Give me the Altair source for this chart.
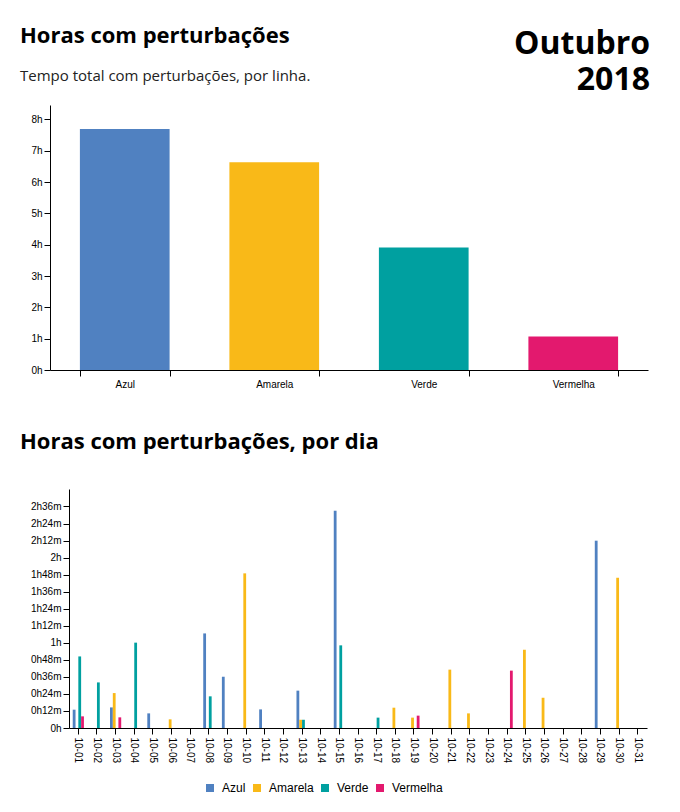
import altair as alt
import pandas as pd

TITLE_FONT = "Open Sans"
AXIS_FONT = "Liberation Sans"

linhas = ["Azul", "Amarela", "Verde", "Vermelha"]
cores = ["#5081c1", "#f9b918", "#00a0a0", "#e3196e"]

# total hours with disruptions, per line
total_horas = [7.69, 6.63, 3.91, 1.07]

# day tick labels
dias = ["10-01", "10-02", "10-03", "10-04", "10-05", "10-06", "10-07", "10-08",
        "10-09", "10-10", "10-11", "10-12", "10-13", "10-14", "10-15", "10-16",
        "10-17", "10-18", "10-19", "10-20", "10-21", "10-22", "10-23", "10-24",
        "10-25", "10-26", "10-27", "10-28", "10-29", "10-30", "10-31"]

# minutes with disruptions per day, per line
azul_dias = ["10-01", "10-03", "10-05", "10-08", "10-09", "10-11", "10-13", "10-15", "10-29"]
azul_min = [12.9, 14.5, 10.3, 66.6, 36.1, 13.1, 26.3, 153.0, 131.9]
amarela_dias = ["10-03", "10-06", "10-10", "10-13", "10-18", "10-19", "10-21", "10-22",
                "10-25", "10-26", "10-30"]
amarela_min = [24.6, 6.1, 108.9, 5.8, 14.3, 7.3, 41.1, 10.3, 55.1, 21.3, 105.8]
verde_dias = ["10-01", "10-02", "10-04", "10-08", "10-13", "10-15", "10-17"]
verde_min = [50.4, 32.1, 60.1, 22.3, 5.8, 58.2, 7.3]
vermelha_dias = ["10-01", "10-03", "10-19", "10-24"]
vermelha_min = [8.2, 7.5, 8.7, 40.4]

# ---------- top chart ----------
df_total = pd.DataFrame({"linha": linhas, "horas": total_horas})
ymax_top = max(total_horas) * 1.1

color_scale = alt.Scale(domain=linhas, range=cores)

top = alt.Chart(df_total).mark_bar().encode(
    x=alt.X("linha:N", sort=linhas,
            scale=alt.Scale(paddingInner=0.4, paddingOuter=0.2, range=[-19, 579]),
            axis=alt.Axis(title=None, labelAngle=0, tickBand="extent", labelPadding=3)),
    y=alt.Y("horas:Q", scale=alt.Scale(domain=[0, ymax_top], nice=False),
            axis=alt.Axis(title=None, values=list(range(0, 9)), offset=19,
                          labelExpr="datum.value + 'h'")),
    color=alt.Color("linha:N", scale=color_scale, legend=None),
).properties(
    width=579, height=265,
    title=alt.Title(
        "Horas com perturbações",
        subtitle="Tempo total com perturbações, por linha.",
        anchor="start", frame="group", dx=-49,
        font=TITLE_FONT, fontSize=22, fontWeight="bold", color="#000",
        subtitleFont=TITLE_FONT, subtitleFontSize=15, subtitleColor="#222",
        subtitlePadding=21, offset=20,
    ),
)

# ---------- bottom chart ----------
rows = []
for nome, ds, vs in [("Azul", azul_dias, azul_min), ("Amarela", amarela_dias, amarela_min),
                     ("Verde", verde_dias, verde_min), ("Vermelha", vermelha_dias, vermelha_min)]:
    for d, v in zip(ds, vs):
        rows.append({"dia": d, "linha": nome, "minutos": v})
df_dia = pd.DataFrame(rows)
ymax_bot = df_dia["minutos"].max() * 1.1

bottom = alt.Chart(df_dia).mark_bar().encode(
    x=alt.X("dia:N", scale=alt.Scale(domain=dias, paddingInner=0.4, paddingOuter=0.2),
            axis=alt.Axis(title=None, labelAngle=90, labelPadding=3)),
    xOffset=alt.XOffset("linha:N", scale=alt.Scale(domain=linhas)),
    y=alt.Y("minutos:Q", scale=alt.Scale(domain=[0, ymax_bot], nice=False),
            axis=alt.Axis(title=None, values=list(range(0, 157, 12)),
                          labelExpr="floor(datum.value/60) + 'h' + (datum.value % 60 ? (datum.value % 60) + 'm' : '')")),
    color=alt.Color("linha:N", scale=color_scale,
                    legend=alt.Legend(title=None, orient="none", direction="horizontal",
                                      legendX=135, legendY=293,
                                      symbolType="square", symbolSize=64, symbolStrokeWidth=0,
                                      labelFont=AXIS_FONT, labelFontSize=12, labelColor="#000",
                                      labelOffset=6, columnPadding=5)),
).properties(
    width=578, height=239,
    title=alt.Title(
        "Horas com perturbações, por dia",
        anchor="start", frame="group", dx=-49,
        font=TITLE_FONT, fontSize=22, fontWeight="bold", color="#000",
        offset=35,
    ),
)

chart = alt.ConcatChart(
    concat=[top, bottom], columns=1, spacing=42,
    padding={"left": 12, "top": 17, "right": 5, "bottom": 5},
    title=alt.Title(["Outubro", "2018"], anchor="end", font=TITLE_FONT, fontSize=32,
                    fontWeight="bold", color="#000", lineHeight=36, offset=-72, dx=-17),
).resolve_scale(color="independent").configure_view(stroke=None).configure_axis(
    labelFont=AXIS_FONT, labelFontSize=10, labelColor="#000",
    domainColor="#000", tickColor="#000", grid=False, tickSize=6,
)

chart.save("out.html", embed_options={"renderer": "svg", "actions": False})
